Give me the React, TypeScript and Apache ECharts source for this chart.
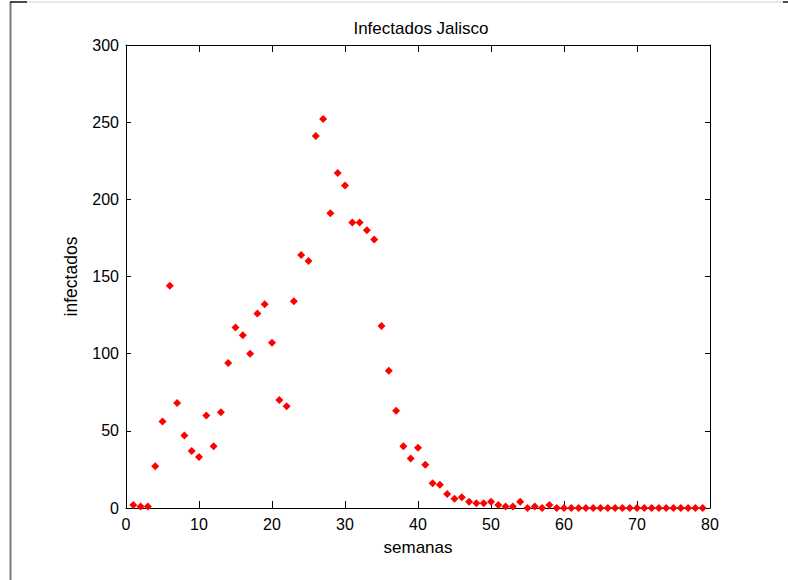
import React, { useEffect, useRef } from "react";
import * as echarts from "echarts";

const weeks = [
  1, 2, 3, 4, 5, 6, 7, 8, 9, 10, 11, 12, 13, 14, 15, 16, 17, 18, 19, 20,
  21, 22, 23, 24, 25, 26, 27, 28, 29, 30, 31, 32, 33, 34, 35, 36, 37, 38, 39, 40,
  41, 42, 43, 44, 45, 46, 47, 48, 49, 50, 51, 52, 53, 54, 55, 56, 57, 58, 59, 60,
  61, 62, 63, 64, 65, 66, 67, 68, 69, 70, 71, 72, 73, 74, 75, 76, 77, 78, 79,
];
const infected = [
  2, 1, 1, 27, 56, 144, 68, 47, 37, 33, 60, 40, 62, 94, 117, 112, 100, 126, 132, 107,
  70, 66, 134, 164, 160, 241, 252, 191, 217, 209, 185, 185, 180, 174, 118, 89, 63, 40, 32, 39,
  28, 16, 15, 9, 6, 7, 4, 3, 3, 4, 2, 1, 1, 4, 0, 1, 0, 2, 0, 0,
  0, 0, 0, 0, 0, 0, 0, 0, 0, 0, 0, 0, 0, 0, 0, 0, 0, 0, 0,
];
const xTicks = { min: 0, max: 80, interval: 10 };
const yTicks = { min: 0, max: 300, interval: 50 };
const titleText = "Infectados Jalisco";
const xName = "semanas";
const yName = "infectados";

const FONT = "'Liberation Sans', Arial, sans-serif";

export default function App() {
  const ref = useRef<HTMLDivElement>(null);
  useEffect(() => {
    document.body.style.margin = "0";
    if (!ref.current) return;
    const chart = echarts.init(ref.current, undefined, { renderer: "svg" });
    const axisLine = { show: true, onZero: false, lineStyle: { color: "#000", width: 1 } };
    chart.setOption({
      animation: false,
      backgroundColor: "#fff",
      title: {
        text: titleText,
        left: 416,
        textAlign: "center",
        top: 15,
        textStyle: { fontFamily: FONT, fontSize: 17, fontWeight: "normal", color: "#000" },
      },
      grid: { left: 126, right: 78, top: 45, bottom: 72 },
      xAxis: [
        {
          type: "value",
          ...xTicks,
          position: "bottom",
          name: xName,
          nameLocation: "middle",
          nameGap: 31,
          nameTextStyle: { fontFamily: FONT, fontSize: 17, color: "#000" },
          axisLine,
          axisTick: { show: true, inside: true, length: 7, lineStyle: { color: "#000" } },
          axisLabel: { fontFamily: FONT, fontSize: 16, color: "#000", margin: 8 },
          splitLine: { show: false },
        },
        {
          type: "value",
          ...xTicks,
          position: "top",
          axisLine,
          axisTick: { show: true, inside: true, length: 7, lineStyle: { color: "#000" } },
          axisLabel: { show: false },
          splitLine: { show: false },
        },
      ],
      yAxis: [
        {
          type: "value",
          ...yTicks,
          position: "left",
          name: yName,
          nameLocation: "middle",
          nameGap: 46,
          nameRotate: 90,
          nameTextStyle: { fontFamily: FONT, fontSize: 17.5, color: "#000" },
          axisLine,
          axisTick: { show: true, inside: true, length: 5, lineStyle: { color: "#000" } },
          axisLabel: { fontFamily: FONT, fontSize: 16, color: "#000", margin: 7 },
          splitLine: { show: false },
        },
        {
          type: "value",
          ...yTicks,
          position: "right",
          axisLine,
          axisTick: { show: true, inside: true, length: 5, lineStyle: { color: "#000" } },
          axisLabel: { show: false },
          splitLine: { show: false },
        },
      ],
      series: [
        {
          type: "scatter",
          xAxisIndex: 0,
          yAxisIndex: 0,
          symbol: "diamond",
          symbolSize: [8, 8],
          itemStyle: { color: "#ff0000", opacity: 1 },
          data: weeks.map((w, i) => [w, infected[i]]),
        },
      ],
      graphic: [
        { type: "line", shape: { x1: 10.5, y1: 2, x2: 10.5, y2: 580 }, style: { stroke: "#7a7a7a", lineWidth: 2 } },
        { type: "line", shape: { x1: 27, y1: 2, x2: 783, y2: 2 }, style: { stroke: "#e2e2e2", lineWidth: 1.5 } },
        { type: "line", shape: { x1: 10, y1: 2, x2: 27, y2: 2 }, style: { stroke: "#111", lineWidth: 1.5 } },
        { type: "line", shape: { x1: 783, y1: 2, x2: 788, y2: 2 }, style: { stroke: "#111", lineWidth: 1.5 } },
      ],
    });
    return () => chart.dispose();
  }, []);
  return <div ref={ref} style={{ width: 788, height: 580 }} />;
}
